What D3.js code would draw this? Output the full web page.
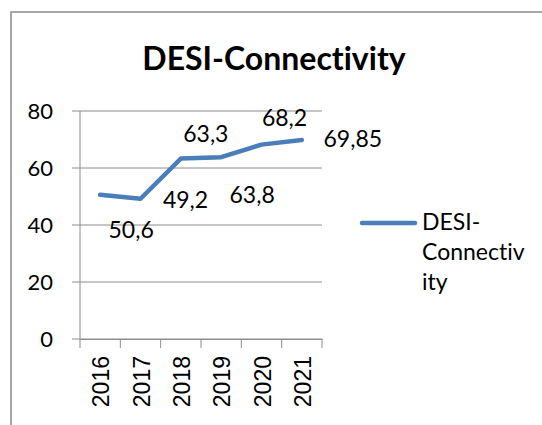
<!DOCTYPE html>
<html>
<head>
<meta charset="utf-8">
<script src="https://cdn.jsdelivr.net/npm/d3@7"></script>
<style>
  body { margin: 0; background: #fff; }
  svg { display: block; }
  text { font-variant-ligatures: none; }
</style>
</head>
<body>
<div id="chart"></div>
<script>
// chart data
const years = ["2016", "2017", "2018", "2019", "2020", "2021"];
const values = [50.6, 49.2, 63.3, 63.8, 68.2, 69.85];
const valueLabels = ["50,6", "49,2", "63,3", "63,8", "68,2", "69,85"];
const yTicks = [0, 20, 40, 60, 80];
const seriesName = "DESI-Connectivity";
const legendLines = ["DESI-", "Connectiv", "ity"];

// layout, label offsets copied from how excel placed them
const width = 542, height = 425;
const plot = { left: 80, right: 322, top: 111, bottom: 339 };
const labelOffsets = [[31, 43], [45, 9], [25, -17], [31, 46], [23, -19], [51, 7]];
const lineColor = "#4a7ebb";
const gridColor = "#8c8c8c";
const calibri = "Lato, 'Open Sans', sans-serif";

const svg = d3.select("#chart").append("svg")
  .attr("width", width)
  .attr("height", height);

// chart frame, runs off the right and bottom edge
svg.append("rect")
  .attr("x", 11).attr("y", 12)
  .attr("width", 700).attr("height", 600)
  .attr("fill", "none")
  .attr("stroke", "#8a8a8a")
  .attr("stroke-width", 1.5);

// title
svg.append("text")
  .attr("x", 274).attr("y", 70)
  .attr("text-anchor", "middle")
  .attr("font-family", calibri)
  .attr("font-weight", "bold")
  .attr("font-size", 32)
  .attr("fill", "#000")
  .text(seriesName);

const x = d3.scaleBand().domain(years).range([plot.left, plot.right]);
const y = d3.scaleLinear().domain([0, 80]).range([plot.bottom, plot.top]);

// gridlines + y ticks
svg.append("g")
  .selectAll("line")
  .data(yTicks)
  .join("line")
  .attr("x1", plot.left - 8).attr("x2", plot.right)
  .attr("y1", d => y(d)).attr("y2", d => y(d))
  .attr("stroke", gridColor).attr("stroke-width", 1);

svg.append("g")
  .selectAll("text")
  .data(yTicks)
  .join("text")
  .attr("x", 53).attr("y", d => y(d) + 8)
  .attr("text-anchor", "end")
  .attr("font-family", calibri)
  .attr("font-size", 22)
  .attr("fill", "#000")
  .text(d => d);

// y axis line
svg.append("line")
  .attr("x1", plot.left).attr("x2", plot.left)
  .attr("y1", plot.top).attr("y2", plot.bottom)
  .attr("stroke", gridColor);

// x axis
const xAxis = svg.append("g")
  .attr("transform", `translate(0,${plot.bottom})`)
  .call(d3.axisBottom(x).tickSize(0).tickFormat(""));
xAxis.select(".domain").attr("stroke", gridColor);

const bounds = [plot.left].concat(years.map(d => x(d) + x.bandwidth()));
svg.append("g")
  .selectAll("line")
  .data(bounds)
  .join("line")
  .attr("x1", d => d).attr("x2", d => d)
  .attr("y1", plot.bottom).attr("y2", plot.bottom + 9)
  .attr("stroke", gridColor);

svg.append("g")
  .selectAll("text")
  .data(years)
  .join("text")
  .attr("transform", d => `translate(${x(d) + x.bandwidth() / 2 + 9},356) rotate(-90)`)
  .attr("text-anchor", "end")
  .attr("font-family", "'Liberation Sans', Arial, sans-serif")
  .attr("font-size", 23)
  .attr("fill", "#000")
  .text(d => d);

// the series line
const line = d3.line()
  .x((d, i) => x(years[i]) + x.bandwidth() / 2)
  .y(d => y(d));

svg.append("path")
  .datum(values)
  .attr("d", line)
  .attr("fill", "none")
  .attr("stroke", lineColor)
  .attr("stroke-width", 4.5)
  .attr("stroke-linejoin", "round")
  .attr("stroke-linecap", "round");

// data labels
svg.append("g")
  .selectAll("text")
  .data(values)
  .join("text")
  .attr("x", (d, i) => x(years[i]) + x.bandwidth() / 2 + labelOffsets[i][0])
  .attr("y", (d, i) => y(d) + labelOffsets[i][1])
  .attr("text-anchor", "middle")
  .attr("font-family", calibri)
  .attr("font-size", 23)
  .attr("fill", "#000")
  .text((d, i) => valueLabels[i]);

// legend
svg.append("line")
  .attr("x1", 362).attr("x2", 415)
  .attr("y1", 223).attr("y2", 223)
  .attr("stroke", lineColor)
  .attr("stroke-width", 4.5)
  .attr("stroke-linecap", "round");

svg.append("g")
  .selectAll("text")
  .data(legendLines)
  .join("text")
  .attr("x", 422)
  .attr("y", (d, i) => 230 + i * 30)
  .attr("font-family", calibri)
  .attr("font-size", 23)
  .attr("fill", "#000")
  .text(d => d);
</script>
</body>
</html>
